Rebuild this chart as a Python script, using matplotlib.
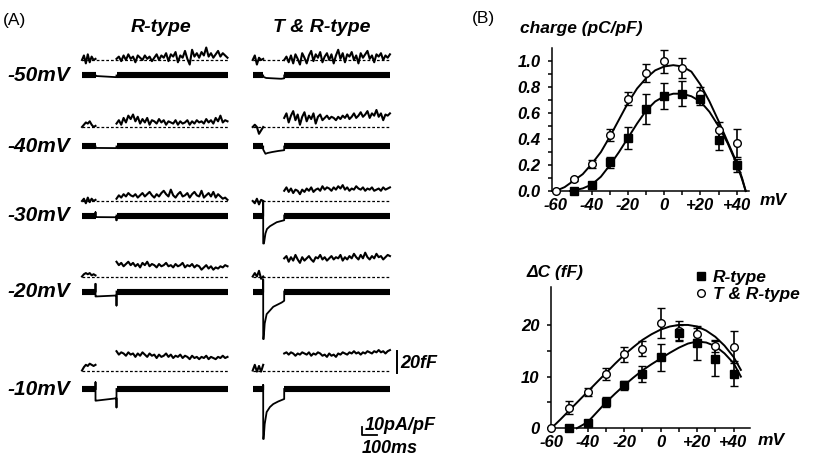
import numpy as np
import matplotlib.pyplot as plt
from matplotlib.lines import Line2D

plt.rcParams['font.family'] = ['Liberation Sans', 'DejaVu Sans']

# ---------------- panel B data ----------------
volt_tr = [-60, -50, -40, -30, -20, -10, 0, 10, 20, 30, 40]
volt_r = [-50, -40, -30, -20, -10, 0, 10, 20, 30, 40]

charge_tr = [0.0, 0.09, 0.21, 0.43, 0.71, 0.91, 1.00, 0.95, 0.75, 0.47, 0.37]
charge_tr_err = [0.0, 0.01, 0.03, 0.045, 0.05, 0.07, 0.09, 0.077, 0.05, 0.06, 0.11]
charge_r = [0.0, 0.05, 0.22, 0.41, 0.63, 0.735, 0.75, 0.71, 0.39, 0.20]
charge_r_err = [0.0, 0.01, 0.045, 0.083, 0.115, 0.10, 0.096, 0.045, 0.077, 0.05]

fit_v_tr = [-60, -55, -50, -45, -40, -35, -30, -25, -20, -15, -10, -5, 0, 5, 10,
            15, 20, 25, 30, 35, 40, 43, 45]
charge_fit_tr = [0.0, 0.03, 0.08, 0.13, 0.21, 0.30, 0.42, 0.55, 0.68, 0.79, 0.87,
                 0.93, 0.96, 0.97, 0.96, 0.92, 0.82, 0.69, 0.54, 0.38, 0.22, 0.10, 0.0]
fit_v_r = [-52, -50, -45, -40, -35, -30, -25, -20, -15, -10, -5, 0, 5, 10, 15,
           20, 25, 30, 35, 40, 43, 45]
charge_fit_r = [0.0, 0.005, 0.02, 0.05, 0.11, 0.20, 0.30, 0.41, 0.52, 0.62, 0.69,
                0.73, 0.75, 0.75, 0.73, 0.69, 0.61, 0.50, 0.37, 0.21, 0.09, 0.0]

dc_tr = [0.0, 4.0, 7.0, 10.5, 14.3, 15.4, 20.3, 18.9, 18.3, 15.9, 15.8]
dc_tr_err = [0.0, 1.3, 0.8, 1.1, 1.4, 1.4, 2.9, 1.8, 1.1, 1.2, 3.1]
dc_r = [0.0, 1.0, 5.1, 8.3, 10.5, 13.7, 18.4, 16.5, 13.5, 10.6]
dc_r_err = [0.0, 0.3, 1.0, 0.8, 1.6, 2.7, 1.5, 3.2, 3.3, 2.5]

dcfit_v_tr = [-60, -55, -50, -45, -40, -35, -30, -25, -20, -15, -10, -5, 0, 5, 10,
              15, 20, 25, 30, 35, 40, 44]
dc_fit_tr = [0.0, 1.7, 3.5, 5.3, 7.1, 8.9, 10.7, 12.5, 14.2, 15.7, 17.1, 18.2, 19.1,
             19.7, 20.0, 20.0, 19.7, 18.9, 17.7, 16.0, 13.8, 11.3]
dcfit_v_r = [-46, -45, -40, -35, -30, -25, -20, -15, -10, -5, 0, 5, 10, 15, 20, 25,
             30, 35, 40, 44]
dc_fit_r = [0.0, 0.2, 1.2, 3.1, 5.0, 6.7, 8.3, 9.8, 11.2, 12.4, 13.5, 14.6, 15.6,
            16.4, 16.8, 16.6, 15.9, 14.5, 12.6, 10.0]

# ---------------- panel A data ----------------
row_labels = ['-50mV', '-40mV', '-30mV', '-20mV', '-10mV']

# capacitance (fF, relative to pre-step baseline)
cap_pre_r = [
    [0, 4, -3, 5, -2, 3, 0, 1],
    [0, 2, 4, 3, 5, 2, 0, 1],
    [0, 2, -2, 3, -1, 2, 0, 1],
    [0, 2, 3, 2, 3, 1, 2, 1],
    [0, 3, 5, 4, 6, 5, 4, 5],
]
cap_post_r = [
    [1, 3, -1, 4, 0, 5, 1, 3, -2, 4, 2, 0, 4, 1, 3, -1, 2, 5, 0, 4, 2, 6, -1, 5,
     3, 7, -2, 4, 2, 8, 1, -4, 9, 3, 6, 2, 7, 4, 11, 3, 6, 2, 5, 8, 3, 6, 4, 2],
    [3, 6, 2, 8, 4, 10, 7, 11, 5, 9, 3, 7, 4, 8, 2, 6, 5, 3, 7, 4, 6, 2, 5, 4,
     3, 6, 2, 5, 3, 4, 6, 2, 5, 3, 6, 4, 5, 3, 7, 4, 6, 3, 8, 5, 10, 4, 6, 5],
    [2, 5, 3, 6, 4, 7, 5, 4, 6, 3, 5, 7, 4, 6, 8, 5, 3, 6, 4, 7, 9, 6, 4, 10,
     5, 3, 6, 8, 4, 5, 7, 3, 6, 8, 5, 4, 9, 3, 5, 7, 4, 8, 3, 6, 4, 2, 3, 1],
    [13, 10, 12, 9, 11, 13, 10, 12, 9, 11, 8, 12, 10, 13, 9, 11, 10, 8, 11, 9, 10,
     12, 9, 10, 8, 11, 9, 10, 12, 8, 10, 9, 11, 8, 10, 9, 6, 8, 10, 7, 9, 6, 8, 7,
     9, 8, 10, 9],
    [17, 14, 16, 15, 13, 16, 14, 15, 12, 15, 13, 16, 14, 12, 15, 13, 14, 11, 14, 12,
     13, 15, 12, 14, 11, 13, 12, 14, 11, 13, 12, 10, 13, 11, 12, 10, 12, 11, 13, 10,
     12, 11, 10, 12, 11, 13, 11, 12],
]
cap_pre_tr = [
    [0, 4, -4, 2, 0, 1],
    [0, 2, 0, -6, -3, 0],
    [0, -2, 2, -3, 1, 0],
    [0, 3, 0, 5, -2, 0],
    [0, 5, -1, 4, -1, 5],
]
cap_post_tr = [
    [0, 3, -2, 4, -3, 5, 1, -4, 6, 2, -3, 4, 8, -1, 5, 2, 7, -2, 3, 6, 0, 5, -3, 4,
     9, 1, 6, -2, 5, 3, 7, 0, 4, -3, 6, 2, 5, 8, 1, 4, -2, 5, 3, 6, 0, 4, 2, 5],
    [8, 12, 4, 10, 14, 6, 11, 2, 9, 13, 5, 10, 7, 12, 3, 9, 11, 6, 8, 10, 7, 9, 8, 6,
     9, 7, 10, 8, 11, 7, 9, 12, 8, 10, 13, 9, 11, 14, 8, 12, 10, 15, 9, 12, 6, 11, 10, 12],
    [9, 12, 8, 11, 7, 10, 9, 6, 10, 8, 11, 9, 12, 8, 10, 11, 9, 13, 10, 12, 11, 9, 12,
     10, 13, 11, 14, 10, 12, 9, 11, 10, 13, 11, 10, 12, 9, 11, 10, 12, 9, 10, 11, 9,
     12, 10, 11, 12],
    [16, 18, 13, 17, 14, 19, 15, 12, 17, 14, 16, 18, 15, 13, 17, 16, 19, 15, 17, 14, 16,
     18, 15, 17, 16, 19, 14, 17, 15, 18, 16, 20, 17, 15, 19, 16, 21, 17, 15, 18, 16, 20,
     17, 18, 15, 17, 19, 18],
    [15, 16, 14, 16, 15, 13, 15, 14, 16, 15, 14, 16, 13, 15, 14, 16, 15, 13, 14, 12, 15,
     13, 14, 12, 15, 14, 16, 15, 14, 16, 15, 17, 15, 16, 14, 16, 15, 17, 16, 15, 17, 16,
     18, 16, 17, 15, 17, 18],
]

# current during the step (ms after step onset, pA/pF)
cur_t_r = [
    [0, 140],
    [0, 140],
    [0, 0, 3, 140, 140],
    [0, 0, 3, 140, 140],
    [0, 0, 3, 140, 140],
]
cur_v_r = [
    [-0.6, -2.1],
    [-1.8, -2.0],
    [4.0, -2.0, -2.0, -2.2, -6.0],
    [9.6, -6.2, -6.2, -5.0, -17.5],
    [8.4, -14.6, -14.6, -11.6, -23.0],
]
cur_t_tr = [
    [0, 20, 120, 140],
    [0, 15, 30, 60, 100, 140],
    [0, 0, 5, 15, 25, 45, 90, 140],
    [0, 0, 3, 10, 23, 67, 123, 140],
    [0, 0, 3, 10, 23, 45, 67, 100, 123, 140],
]
cur_v_tr = [
    [-1.6, -3.1, -4.1, -3.5],
    [-3.8, -9.1, -8.1, -6.9, -5.6, -4.6],
    [17.5, -35.0, -35.0, -22.5, -16.9, -13.4, -8.4, -5.9],
    [15.0, -59.5, -59.5, -40.0, -28.3, -19.1, -13.8, -11.6],
    [5.0, -62.5, -62.5, -43.8, -28.8, -22.5, -18.8, -15.6, -13.8, -12.5],
]

# ---------------- layout (figure pixels) ----------------
PX_MS = 0.15     # 100 ms -> 15 px
PX_PA = 0.8      # 10 pA/pF -> 8 px
PX_FF = 1.135    # 20 fF -> 22.7 px
STEP_MS = 140
col_x = {'R': 82.0, 'TR': 252.7}
pre_ms = {'R': 90, 'TR': 70}
post_ms = {'R': 740, 'TR': 705}
row_cur_y = [75.5, 146.5, 215.5, 291.5, 389.0]
row_cap_y = [60.0, 127.0, 201.0, 276.5, 370.5]

fig = plt.figure(figsize=(8.16, 4.61), dpi=100)
ax = fig.add_axes([0, 0, 1, 1])
ax.set_xlim(0, 816)
ax.set_ylim(461, 0)
ax.axis('off')

fs_bi = dict(fontweight='bold', fontstyle='italic')


def draw_row(x0, pre, post, ycur, ycap, cpre, cpost, ct, cv):
    end = pre + STEP_MS + post
    # capacitance: dashed baseline + noisy traces
    ax.plot([x0, x0 + end * PX_MS], [ycap, ycap], color='k', lw=0.9,
            dashes=(2.2, 1.6))
    t = np.linspace(0, pre, len(cpre))
    ax.plot(x0 + t * PX_MS, ycap - np.array(cpre) * PX_FF, color='k', lw=1.5)
    t = np.linspace(pre + STEP_MS, end, len(cpost))
    ax.plot(x0 + t * PX_MS, ycap - np.array(cpost) * PX_FF, color='k', lw=1.5)
    # current: holding bar, step response, pulse-train band
    ax.plot([x0, x0 + pre * PX_MS], [ycur, ycur], color='k', lw=4.4,
            solid_capstyle='butt')
    tt = np.r_[pre, pre + np.array(ct), pre + STEP_MS]
    vv = np.r_[0, cv, 0]
    ax.plot(x0 + tt * PX_MS, ycur - vv * PX_PA, color='k', lw=1.3)
    ax.plot([x0 + (pre + STEP_MS) * PX_MS, x0 + end * PX_MS], [ycur, ycur],
            color='k', lw=4.4, solid_capstyle='butt')


for i in range(5):
    draw_row(col_x['R'], pre_ms['R'], post_ms['R'], row_cur_y[i], row_cap_y[i],
             cap_pre_r[i], cap_post_r[i], cur_t_r[i], cur_v_r[i])
    draw_row(col_x['TR'], pre_ms['TR'], post_ms['TR'], row_cur_y[i], row_cap_y[i],
             cap_pre_tr[i], cap_post_tr[i], cur_t_tr[i], cur_v_tr[i])
    ax.text(7, row_cur_y[i], row_labels[i], fontsize=15, ha='left', va='center', **fs_bi)

ax.text(3, 20, '(A)', fontsize=12.5, ha='left', va='center')
ax.text(161, 27, 'R-type', fontsize=14, ha='center', va='center', **fs_bi)
ax.text(322, 27, 'T & R-type', fontsize=14, ha='center', va='center', **fs_bi)

# scale bars
ax.plot([396.7, 396.7], [373.3, 373.3 - 20 * PX_FF], color='k', lw=1.4)
ax.text(400, 363, '20fF', fontsize=13, ha='left', va='center', **fs_bi)
ax.plot([361.7 + 100 * PX_MS, 361.7, 361.7], [435, 435, 435 - 10 * PX_PA],
        color='k', lw=1.3)
ax.text(365, 425, '10pA/pF', fontsize=13, ha='left', va='center', **fs_bi)
ax.text(362, 448, '100ms', fontsize=13, ha='left', va='center', **fs_bi)

ax.text(472, 18, '(B)', fontsize=12.5, ha='left', va='center')

# ---------------- panel B ----------------
W, H = 816.0, 461.0


def style_axis(a):
    for s in ['top', 'right']:
        a.spines[s].set_visible(False)
    for s in ['left', 'bottom']:
        a.spines[s].set_linewidth(1.1)
    a.tick_params(which='both', direction='out', length=3, width=1.1,
                  labelsize=12, pad=2)
    a.tick_params(axis='y', which='both', pad=5)
    for lab in a.get_xticklabels() + a.get_yticklabels():
        lab.set_fontweight('bold')
        lab.set_fontstyle('italic')
    a.patch.set_alpha(0)


def plot_series(a, v, y, e, vf, yf, marker, face):
    a.plot(vf, yf, color='k', lw=1.4, zorder=2, clip_on=False)
    a.errorbar(v, y, yerr=e, fmt=marker, ms=5.5, mfc=face, mec='k', mew=1.0,
               ecolor='k', elinewidth=1.2, capsize=2.8, capthick=1.2,
               zorder=3, clip_on=False)


xt = [-60, -40, -20, 0, 20, 40]
xtl = ['-60', '-40', '-20', '0', '+20', '+40']

axT = fig.add_axes([552 / W, 1 - 191 / H, 197.3 / W, 142.7 / H])
plot_series(axT, volt_tr, charge_tr, charge_tr_err, fit_v_tr, charge_fit_tr, 'o', 'white')
plot_series(axT, volt_r, charge_r, charge_r_err, fit_v_r, charge_fit_r, 's', 'k')
axT.set_xlim(-62, 47)
axT.set_ylim(0, 1.1)
axT.set_xticks(xt)
axT.set_xticklabels(xtl)
axT.set_xticks(np.arange(-60, 41, 10), minor=True)
axT.set_yticks([0, 0.2, 0.4, 0.6, 0.8, 1.0])
axT.set_yticklabels(['0.0', '0.2', '0.4', '0.6', '0.8', '1.0'])
axT.set_yticks(np.arange(0, 1.05, 0.1), minor=True)
style_axis(axT)

axB = fig.add_axes([550.7 / W, 1 - 428.3 / H, 199.3 / W, 141.6 / H])
plot_series(axB, volt_tr, dc_tr, dc_tr_err, dcfit_v_tr, dc_fit_tr, 'o', 'white')
plot_series(axB, volt_r, dc_r, dc_r_err, dcfit_v_r, dc_fit_r, 's', 'k')
axB.set_xlim(-60.3, 49)
axB.set_ylim(0, 27.4)
axB.set_xticks(xt)
axB.set_xticklabels(xtl)
axB.set_xticks(np.arange(-60, 41, 10), minor=True)
axB.set_yticks([0, 10, 20])
axB.set_yticks([5, 15], minor=True)
style_axis(axB)

ax.text(520, 29, 'charge (pC/pF)', fontsize=12.5, ha='left', va='center', **fs_bi)
ax.text(760, 200, 'mV', fontsize=12.5, ha='left', va='center', **fs_bi)
ax.text(527, 272, '\u0394C (fF)', fontsize=12.5, ha='left', va='center', **fs_bi)
ax.text(758, 440, 'mV', fontsize=12.5, ha='left', va='center', **fs_bi)

handles = [Line2D([], [], ls='none', marker='s', ms=5.5, mfc='k', mec='k'),
           Line2D([], [], ls='none', marker='o', ms=5.5, mfc='white', mec='k')]
fig.legend(handles, ['R-type', 'T & R-type'], loc='upper left',
           bbox_to_anchor=(686 / W, 1 - 261 / H), frameon=False,
           handlelength=0.7, handletextpad=0.35, labelspacing=0.1,
           borderpad=0, prop=dict(size=12.5, weight='bold', style='italic'))

fig.savefig('out.png', dpi=100)
